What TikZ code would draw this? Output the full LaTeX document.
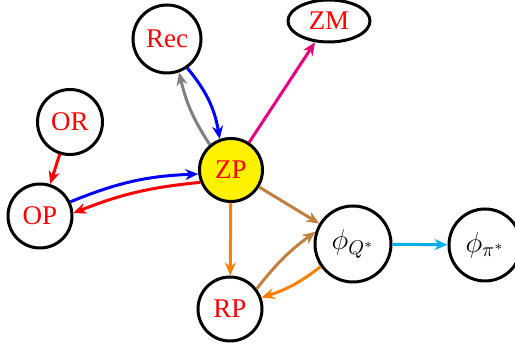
\documentclass[tikz,border=0pt]{standalone}
\usepackage{amsmath}
\usepackage{fontspec}
\setmainfont{Liberation Serif}
\usepackage{tikz}
\usetikzlibrary{arrows.meta,shapes.geometric}
\definecolor{PINK}{RGB}{230,0,126}
\definecolor{SKY}{RGB}{0,174,239}
\tikzset{
STATE/.style ={draw=black,circle,line width=1.5pt,inner sep=0pt,text=red,font=\fontsize{13.5}{16}\selectfont,minimum size=#1},
STATE/.default = 32pt,
ARC/.style ={draw=#1,line width=1.5pt,-{Stealth[length=6.5pt,width=5.5pt]}},
ARC/.default = black,
}
\begin{document}
\begin{tikzpicture} %model states
[x=0.5pt, y=-0.5pt]
	\useasboundingbox (0,0) rectangle (515,346);
	\node[STATE=34pt] (Rec) at (167,39) {Rec};
	\node[STATE,ellipse,minimum width=41pt,minimum height=21pt] (ZM) at (329,21) {ZM};
	\node[STATE=32.5pt] (OR) at (70,122) {OR};
	\node[STATE] (OP) at (40,216) {OP};
	\node[STATE=31.5pt,fill=yellow] (ZP) at (231,170) {ZP};
	\node[STATE=38pt,text=black,font=\fontsize{14.5}{16}\selectfont] (Q) at (353,244) {$\phi_{Q^*}$};
	\node[STATE=36pt,text=black,font=\fontsize{14.5}{16}\selectfont] (Pi) at (485,245) {$\phi_{\pi^*}$};
	\node[STATE] (RP) at (230,309) {RP};
	\path[ARC=blue] (Rec.-55) to[bend left=15] (ZP.110);
	\path[ARC=gray] (ZP.130) to[bend left=10] (Rec.-70);
	\path[ARC=PINK] (ZP) -- (ZM);
	\path[ARC=red] (OR) -- (OP);
	\path[ARC=blue] (OP.25) to[bend left=10] (ZP.187);
	\path[ARC=red] (ZP.202) to[bend right=8] (OP.5);
	\path[ARC=brown] (ZP) -- (Q);
	\path[ARC=orange] (ZP) -- (RP);
	\path[ARC=brown] (RP.37) to[bend left=8] (Q.162);
	\path[ARC=orange] (Q.215) to[bend left=10] (RP.20);
	\path[ARC=SKY] (Q) -- (Pi);
\end{tikzpicture}
\end{document}
